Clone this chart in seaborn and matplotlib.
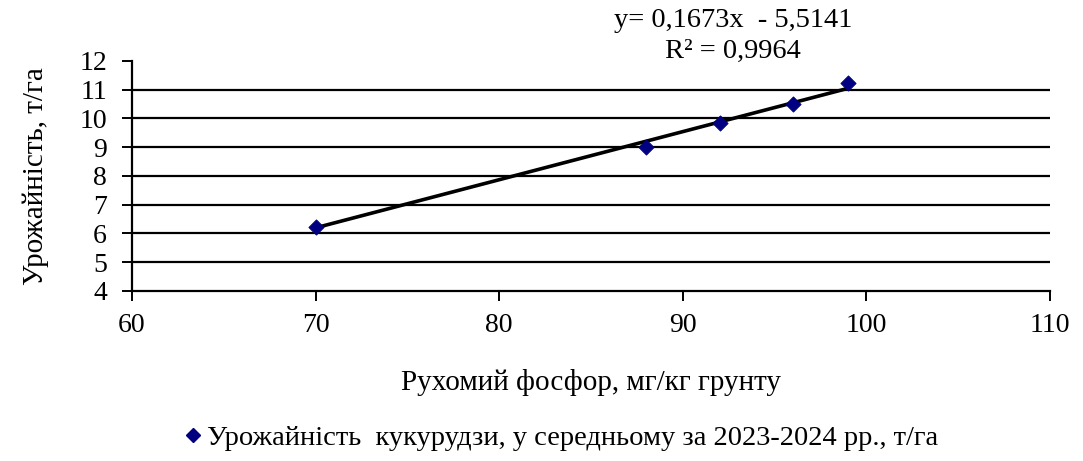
import numpy as np
import pandas as pd
import matplotlib
matplotlib.use("Agg")
import matplotlib.pyplot as plt
import seaborn as sns

# Data
phosphorus = [70, 88, 92, 96, 99]
yield_t_ha = [6.22, 9.0, 9.85, 10.5, 11.25]
slope = 0.1673
intercept = -5.5141
r_squared = 0.9964
x_ticks = [60, 70, 80, 90, 100, 110]
y_ticks = [4, 5, 6, 7, 8, 9, 10, 11, 12]
series_label = "Урожайність  кукурудзи, у середньому за 2023-2024 рр., т/га"
x_label = "Рухомий фосфор, мг/кг грунту"
y_label = "Урожайність, т/га"

sns.set_theme(style="white")
plt.rcParams["font.family"] = ["Liberation Serif", "DejaVu Serif"]
plt.rcParams["text.color"] = "black"

df = pd.DataFrame({"x": phosphorus, "y": yield_t_ha})
trend_x = np.array([min(phosphorus), max(phosphorus)])
trend = pd.DataFrame({"x": trend_x, "y": slope * trend_x + intercept})

fig = plt.figure(figsize=(10.83, 4.61), dpi=100)
ax = fig.add_axes([0.1219, 0.3688, 0.8476, 0.4989])

# horizontal grid lines at the inner ticks
for v in y_ticks[1:-1]:
    ax.axhline(v, color="black", lw=1.6, zorder=1)

sns.lineplot(data=trend, x="x", y="y", ax=ax, color="black", lw=2.6, zorder=2)
sns.scatterplot(data=df, x="x", y="y", ax=ax, marker="D", s=60, color="#000080",
                edgecolor="#000080", zorder=3, label=series_label, legend=False)

ax.set_xlim(60, 110)
ax.set_ylim(4, 12)
ax.set_xticks(x_ticks)
ax.set_yticks(y_ticks)
ax.tick_params(axis="both", which="both", direction="out", length=7, width=1.4,
               color="black", labelsize=20, labelcolor="black", left=True, bottom=True)
ax.tick_params(axis="x", pad=9)
ax.tick_params(axis="y", pad=11)
for s in ["top", "right"]:
    ax.spines[s].set_visible(False)
for s in ["left", "bottom"]:
    ax.spines[s].set_color("black")
    ax.spines[s].set_linewidth(1.6)

ax.set_xlabel(x_label, fontsize=21, labelpad=22, color="black")
ax.set_ylabel(y_label, fontsize=21, labelpad=22, color="black")

fig.text(0.677, 0.955, f"y= {slope:.4f}x  - {abs(intercept):.4f}".replace(".", ","),
         ha="center", va="center", fontsize=20.5, color="black")
fig.text(0.677, 0.888, f"R² = {r_squared:.4f}".replace(".", ","),
         ha="center", va="center", fontsize=20.5, color="black")

handle = plt.Line2D([], [], marker="D", ls="none", color="#000080", markersize=7)
fig.legend([handle], [series_label], loc="center", bbox_to_anchor=(0.517, 0.05),
           frameon=False, fontsize=20.5, handletextpad=0.1, handlelength=0.8,
           labelcolor="black")

fig.savefig("out.png", dpi=100)
